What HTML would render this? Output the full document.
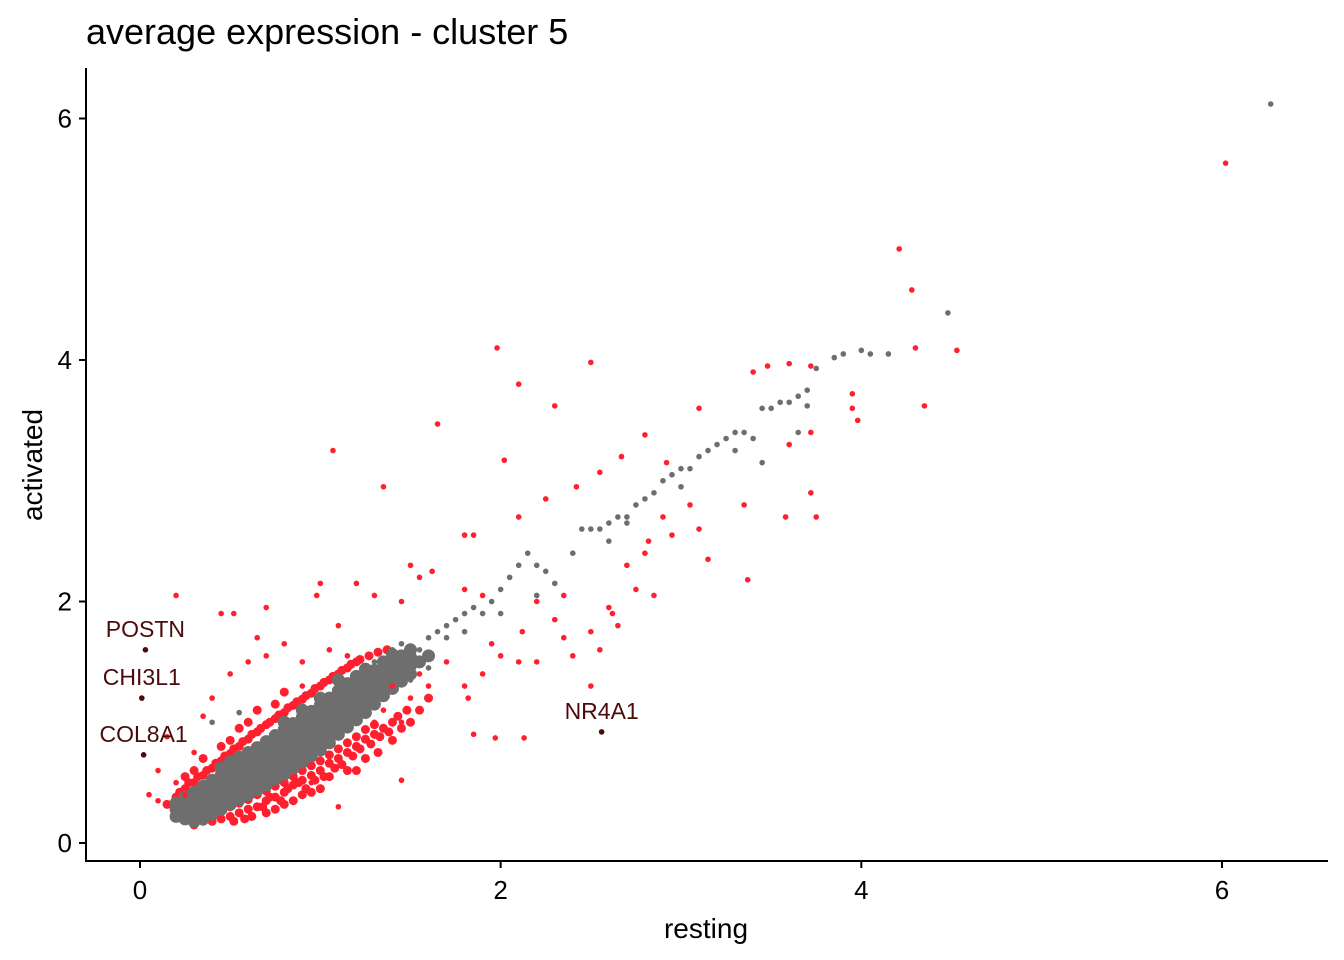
<!DOCTYPE html>
<html><head><meta charset="utf-8"><style>
body{margin:0;background:#fff;}
svg{display:block;font-family:"Liberation Sans",Arial,sans-serif;}
</style></head><body>
<svg id="chart" width="1344" height="960">
<text x="86" y="44" font-size="36" fill="#000">average expression - cluster 5</text>
<g id="plot"></g>
<g id="axes"></g>
<text x="706" y="938" font-size="28" text-anchor="middle" fill="#000">resting</text>
<text x="0" y="0" font-size="28" text-anchor="middle" fill="#000" transform="translate(42,465) rotate(-90)">activated</text>
</svg>
<script>
const xTicks=[0,2,4,6];
const yTicks=[0,2,4,6];
const grayCloud=[[0.2,0.22],[0.2,0.28],[0.2,0.33],[0.25,0.2],[0.25,0.26],[0.25,0.32],[0.25,0.38],[0.3,0.18],[0.3,0.24],[0.3,0.3],[0.3,0.36],[0.3,0.42],[0.35,0.2],[0.35,0.27],[0.35,0.34],[0.35,0.41],[0.35,0.47],[0.4,0.24],[0.4,0.31],[0.4,0.38],[0.4,0.45],[0.4,0.52],[0.45,0.28],[0.45,0.35],[0.45,0.42],[0.45,0.49],[0.45,0.56],[0.45,0.62],[0.5,0.32],[0.5,0.39],[0.5,0.46],[0.5,0.53],[0.5,0.6],[0.5,0.67],[0.55,0.36],[0.55,0.43],[0.55,0.5],[0.55,0.57],[0.55,0.64],[0.55,0.71],[0.6,0.4],[0.6,0.47],[0.6,0.54],[0.6,0.61],[0.6,0.68],[0.6,0.75],[0.65,0.44],[0.65,0.51],[0.65,0.58],[0.65,0.65],[0.65,0.72],[0.65,0.79],[0.7,0.48],[0.7,0.55],[0.7,0.62],[0.7,0.69],[0.7,0.76],[0.7,0.84],[0.75,0.53],[0.75,0.6],[0.75,0.67],[0.75,0.74],[0.75,0.81],[0.75,0.89],[0.8,0.57],[0.8,0.64],[0.8,0.71],[0.8,0.78],[0.8,0.86],[0.8,0.94],[0.85,0.62],[0.85,0.69],[0.85,0.76],[0.85,0.83],[0.85,0.91],[0.85,0.99],[0.9,0.67],[0.9,0.74],[0.9,0.81],[0.9,0.88],[0.9,0.96],[0.9,1.04],[0.95,0.72],[0.95,0.79],[0.95,0.86],[0.95,0.93],[0.95,1.01],[0.95,1.09],[1.0,0.77],[1.0,0.84],[1.0,0.91],[1.0,0.98],[1.0,1.06],[1.0,1.14],[1.05,0.83],[1.05,0.9],[1.05,0.97],[1.05,1.04],[1.05,1.12],[1.05,1.2],[1.1,0.9],[1.1,0.97],[1.1,1.04],[1.1,1.11],[1.1,1.18],[1.1,1.26],[1.15,0.96],[1.15,1.03],[1.15,1.1],[1.15,1.17],[1.15,1.25],[1.15,1.32],[1.2,1.02],[1.2,1.1],[1.2,1.17],[1.2,1.24],[1.2,1.31],[1.2,1.38],[1.25,1.08],[1.25,1.16],[1.25,1.23],[1.25,1.3],[1.25,1.37],[1.25,1.44],[1.3,1.15],[1.3,1.22],[1.3,1.29],[1.3,1.36],[1.3,1.43],[1.35,1.22],[1.35,1.29],[1.35,1.36],[1.35,1.43],[1.35,1.5],[1.4,1.28],[1.4,1.35],[1.4,1.42],[1.4,1.49],[1.4,1.56],[1.45,1.34],[1.45,1.41],[1.45,1.48],[1.45,1.55],[1.5,1.4],[1.5,1.47],[1.5,1.54],[1.5,1.6],[1.55,1.5],[1.6,1.55],[1.1,1.35],[1.0,1.2],[0.8,1.0],[0.9,1.1]];
const graySparse=[[1.55,1.6],[1.6,1.7],[1.65,1.75],[1.7,1.8],[1.75,1.85],[1.8,1.9],[1.85,1.95],[1.9,1.9],[1.95,2.0],[2.0,2.1],[2.05,2.2],[2.1,2.3],[2.15,2.4],[2.2,2.3],[2.25,2.25],[2.4,2.4],[2.45,2.6],[2.5,2.6],[2.55,2.6],[2.6,2.65],[2.65,2.7],[2.7,2.7],[2.75,2.8],[2.8,2.85],[2.85,2.9],[2.9,3.0],[2.95,3.05],[3.0,3.1],[3.05,3.1],[3.1,3.2],[3.15,3.25],[3.2,3.3],[3.25,3.35],[3.3,3.4],[3.35,3.4],[3.4,3.35],[3.45,3.6],[3.5,3.6],[3.55,3.65],[3.6,3.65],[3.65,3.7],[3.7,3.75],[3.75,3.93],[3.85,4.02],[3.9,4.05],[4.0,4.08],[4.05,4.05],[4.15,4.05],[4.48,4.39],[6.27,6.12],[1.45,1.65],[1.5,1.35],[1.55,1.5],[1.7,1.7],[1.8,1.75],[1.3,1.5],[1.4,1.6],[2.3,2.15],[2.0,1.9],[0.4,1.0],[0.55,1.08],[3.65,3.4],[3.45,3.15],[3.3,3.25],[3.0,2.95],[2.2,2.05],[1.6,1.45],[3.7,3.62],[2.7,2.65],[2.6,2.5]];
const redCloud=[[0.3,0.15],[0.35,0.18],[0.4,0.18],[0.45,0.2],[0.5,0.22],[0.55,0.25],[0.6,0.28],[0.65,0.3],[0.7,0.35],[0.75,0.38],[0.8,0.42],[0.85,0.48],[0.9,0.52],[0.95,0.56],[1.0,0.6],[1.05,0.66],[1.1,0.7],[1.15,0.75],[1.2,0.8],[1.25,0.86],[1.3,0.9],[1.35,0.95],[1.4,1.0],[0.45,0.27],[0.5,0.3],[0.55,0.33],[0.6,0.36],[0.65,0.4],[0.7,0.43],[0.75,0.47],[0.8,0.5],[0.85,0.55],[0.9,0.6],[0.95,0.64],[1.0,0.68],[1.05,0.73],[1.1,0.78],[1.15,0.83],[1.2,0.88],[1.25,0.94],[1.3,0.98],[0.7,0.25],[0.8,0.32],[0.9,0.4],[1.0,0.45],[1.2,0.6],[0.15,0.32],[0.2,0.38],[0.25,0.45],[0.3,0.5],[0.35,0.56],[0.4,0.62],[0.45,0.68],[0.5,0.74],[0.55,0.8],[0.6,0.86],[0.65,0.92],[0.7,0.98],[0.75,1.03],[0.8,1.08],[0.85,1.14],[0.9,1.19],[0.95,1.24],[1.0,1.3],[1.05,1.35],[1.1,1.4],[1.15,1.45],[1.2,1.5],[0.5,0.85],[0.6,1.0],[0.8,1.25],[0.3,0.6],[0.62,0.22],[0.68,0.3],[0.72,0.38],[0.78,0.35],[0.82,0.45],[0.88,0.5],[0.92,0.45],[0.97,0.52],[1.02,0.55],[1.08,0.62],[1.12,0.65],[1.18,0.72],[1.22,0.78],[1.28,0.82],[1.33,0.88],[1.38,0.92],[1.43,1.05],[1.48,1.1],[1.32,0.75],[1.25,0.7],[1.15,0.6],[1.05,0.55],[0.95,0.42],[0.85,0.35],[0.75,0.28],[0.58,0.2],[0.52,0.18],[0.42,0.25],[0.38,0.22],[0.33,0.24],[0.28,0.28],[0.22,0.42],[0.27,0.5],[0.32,0.55],[0.37,0.6],[0.42,0.66],[0.47,0.72],[0.52,0.78],[0.57,0.84],[0.62,0.9],[0.67,0.95],[0.72,1.0],[0.77,1.06],[0.82,1.12],[0.87,1.17],[0.92,1.22],[0.97,1.28],[1.02,1.33],[1.07,1.38],[1.12,1.43],[1.17,1.48],[1.22,1.52],[1.27,1.55],[1.32,1.58],[1.37,1.6],[0.55,0.95],[0.65,1.1],[0.75,1.15],[0.45,0.8],[0.35,0.7],[0.25,0.55],[1.5,1.0],[1.55,1.1],[1.6,1.2],[1.4,0.85],[1.45,0.95]];
const redSparse=[[6.02,5.63],[4.21,4.92],[4.28,4.58],[4.3,4.1],[4.35,3.62],[4.53,4.08],[3.98,3.5],[3.95,3.6],[3.95,3.72],[1.98,4.1],[2.1,3.8],[2.5,3.98],[2.3,3.62],[1.65,3.47],[1.07,3.25],[1.35,2.95],[2.02,3.17],[2.42,2.95],[2.55,3.07],[2.67,3.2],[2.8,3.38],[2.92,3.15],[3.1,3.6],[3.4,3.9],[3.48,3.95],[3.6,3.97],[3.72,3.95],[3.6,3.3],[3.72,3.4],[3.72,2.9],[3.75,2.7],[3.58,2.7],[3.35,2.8],[3.37,2.18],[3.15,2.35],[3.1,2.6],[3.05,2.8],[2.9,2.7],[2.95,2.55],[2.82,2.5],[2.8,2.4],[2.75,2.1],[2.85,2.05],[2.7,2.3],[2.6,1.95],[2.65,1.8],[2.55,1.6],[2.62,1.9],[2.5,1.75],[2.35,2.05],[2.3,1.85],[2.2,2.0],[2.1,2.7],[2.25,2.85],[2.12,1.75],[2.1,1.5],[2.0,1.55],[1.95,1.65],[1.9,1.4],[1.82,1.2],[1.8,1.3],[1.7,1.5],[1.6,1.3],[1.55,1.4],[1.5,1.2],[1.45,1.0],[1.4,1.3],[1.35,1.1],[1.3,1.0],[1.25,0.95],[2.5,1.3],[2.13,0.87],[1.97,0.87],[1.85,0.9],[1.45,0.52],[1.1,0.3],[0.95,0.5],[1.8,2.55],[1.85,2.55],[1.5,2.3],[1.62,2.25],[1.55,2.2],[1.45,2.0],[1.3,2.05],[1.2,2.15],[1.0,2.15],[0.98,2.05],[0.7,1.95],[0.52,1.9],[0.45,1.9],[0.2,2.05],[0.65,1.7],[0.8,1.65],[0.7,1.55],[0.6,1.5],[0.5,1.4],[0.4,1.2],[0.35,1.05],[0.15,0.88],[0.3,0.75],[0.1,0.6],[0.2,0.5],[0.25,0.4],[0.05,0.4],[0.1,0.35],[1.8,2.1],[1.9,2.05],[2.4,1.55],[2.35,1.7],[2.2,1.5],[0.9,1.5],[1.05,1.6],[1.15,1.55],[1.1,1.8],[0.9,1.3]];
const labelNames=["POSTN","CHI3L1","COL8A1","NR4A1"];
const labelX=[0.03,0.01,0.02,2.56];
const labelY=[1.6,1.2,0.73,0.92];

const NS="http://www.w3.org/2000/svg";
function sx(v){return 140+v*180.33;}
function sy(v){return 843-v*120.75;}
const plot=document.getElementById('plot');
const axes=document.getElementById('axes');
function dot(p,r,fill,name){
  const c=document.createElementNS(NS,'circle');
  c.setAttribute('cx',sx(p[0]));c.setAttribute('cy',sy(p[1]));
  c.setAttribute('r',r);c.setAttribute('fill',fill);
  
  
  plot.appendChild(c);
}
redCloud.forEach(p=>dot(p,4.5,'#ff1f2e','red-point'));
grayCloud.forEach(p=>dot(p,6.5,'#6e6e6e','gray-point'));
graySparse.forEach(p=>dot(p,2.8,'#6e6e6e','gray-point'));
redSparse.forEach(p=>dot(p,2.8,'#ff1f2e','red-point'));
labelNames.forEach((n,i)=>{
  dot([labelX[i],labelY[i]],2.8,'#4a0b0b','labeled-point');
  const t=document.createElementNS(NS,'text');
  t.setAttribute('x',sx(labelX[i]));t.setAttribute('y',sy(labelY[i])-13);
  t.setAttribute('text-anchor','middle');t.setAttribute('font-size','23');t.setAttribute('fill','#4a0b0b');
  t.textContent=n;
  
  
  plot.appendChild(t);
});
function line(x1,y1,x2,y2,name){
  const l=document.createElementNS(NS,'line');
  l.setAttribute('x1',x1);l.setAttribute('y1',y1);l.setAttribute('x2',x2);l.setAttribute('y2',y2);
  l.setAttribute('stroke','#000');l.setAttribute('stroke-width','2');
  
  
  axes.appendChild(l);
}
line(86,68,86,862,'y-axis-line');
line(85,861,1328,861,'x-axis-line');
xTicks.forEach(v=>{
  line(sx(v),861,sx(v),868,'x-tick');
  const t=document.createElementNS(NS,'text');
  t.setAttribute('x',sx(v));t.setAttribute('y',899);t.setAttribute('text-anchor','middle');t.setAttribute('font-size','26');
  t.textContent=v;
  
  
  axes.appendChild(t);
});
yTicks.forEach(v=>{
  line(79,sy(v),86,sy(v),'y-tick');
  const t=document.createElementNS(NS,'text');
  t.setAttribute('x',72);t.setAttribute('y',sy(v)+9);t.setAttribute('text-anchor','end');t.setAttribute('font-size','26');
  t.textContent=v;
  
  
  axes.appendChild(t);
});
</script>
</body></html>
